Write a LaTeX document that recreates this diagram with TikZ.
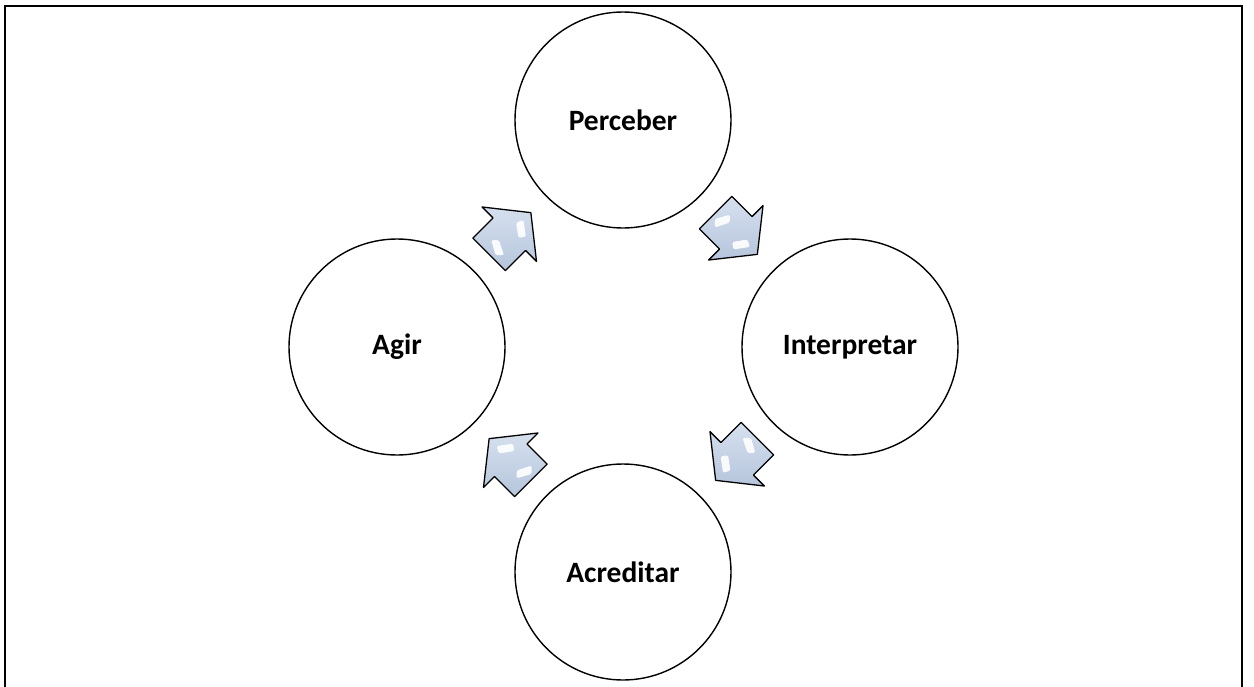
\documentclass[tikz,border=0pt]{standalone}
\usepackage{fontspec}
\setsansfont{Carlito}
\usetikzlibrary{calc}

\definecolor{arrowmid}{RGB}{198,211,230}
\definecolor{arrowdark}{RGB}{182,197,220}
\definecolor{arrowlight}{RGB}{214,224,238}

\tikzset{
  stage/.style={circle, draw=black, line width=1.4pt, fill=white,
    minimum size=216pt, inner sep=0pt,
    font=\sffamily\bfseries\fontsize{29.5}{33}\selectfont},
  frame/.style={draw=black, line width=2pt},
  gloss/.style={fill=white, opacity=0.9},
  % block arrow pointing along +x, centred on the origin
  cyclearrow/.pic={
    \draw[line width=1.3pt, line join=round,
          top color=arrowlight, bottom color=arrowdark, middle color=arrowmid]
      (-29.5,-23) -- (-1,-23) -- (-1,-38.5) -- (29.5,0)
      -- (-1,38.5) -- (-1,23) -- (-29.5,23) -- cycle;
    % glossy highlights
    \fill[gloss, rounded corners=1.5pt]
      (19,0) -- (9,-13.5) -- (3,-9) -- (12,3.5) -- cycle;
    \fill[gloss, rounded corners=1.5pt]
      (-12.5,3) -- (-18,8.5) -- (-25.5,-5) -- (-19.5,-11) -- cycle;
  }
}

\begin{document}
\begin{tikzpicture}[x=1pt, y=1pt]
  \useasboundingbox (0,0) rectangle (1254,-686);
  \clip (0,0) rectangle (1254,-686);

  % outer frame, open at the bottom edge of the page
  \draw[frame] (5,-720) -- (5,-6) -- (1242,-6) -- (1242,-720);

  % the four stages
  \node[stage] (perc)   at (623,-120) {Perceber};
  \node[stage] (interp) at (850,-347) {Interpretar};
  \node[stage] (acred)  at (623,-572) {Acreditar};
  \node[stage] (agir)   at (397,-347) {Agir};

  % arrows between consecutive stages
  \pic[rotate=-45]  at ($(perc)!0.5!(interp)$) {cyclearrow};
  \pic[rotate=-135] at ($(interp)!0.5!(acred)$) {cyclearrow};
  \pic[rotate=135]  at ($(acred)!0.5!(agir)$)  {cyclearrow};
  \pic[rotate=45]   at ($(agir)!0.5!(perc)$)   {cyclearrow};
\end{tikzpicture}
\end{document}
